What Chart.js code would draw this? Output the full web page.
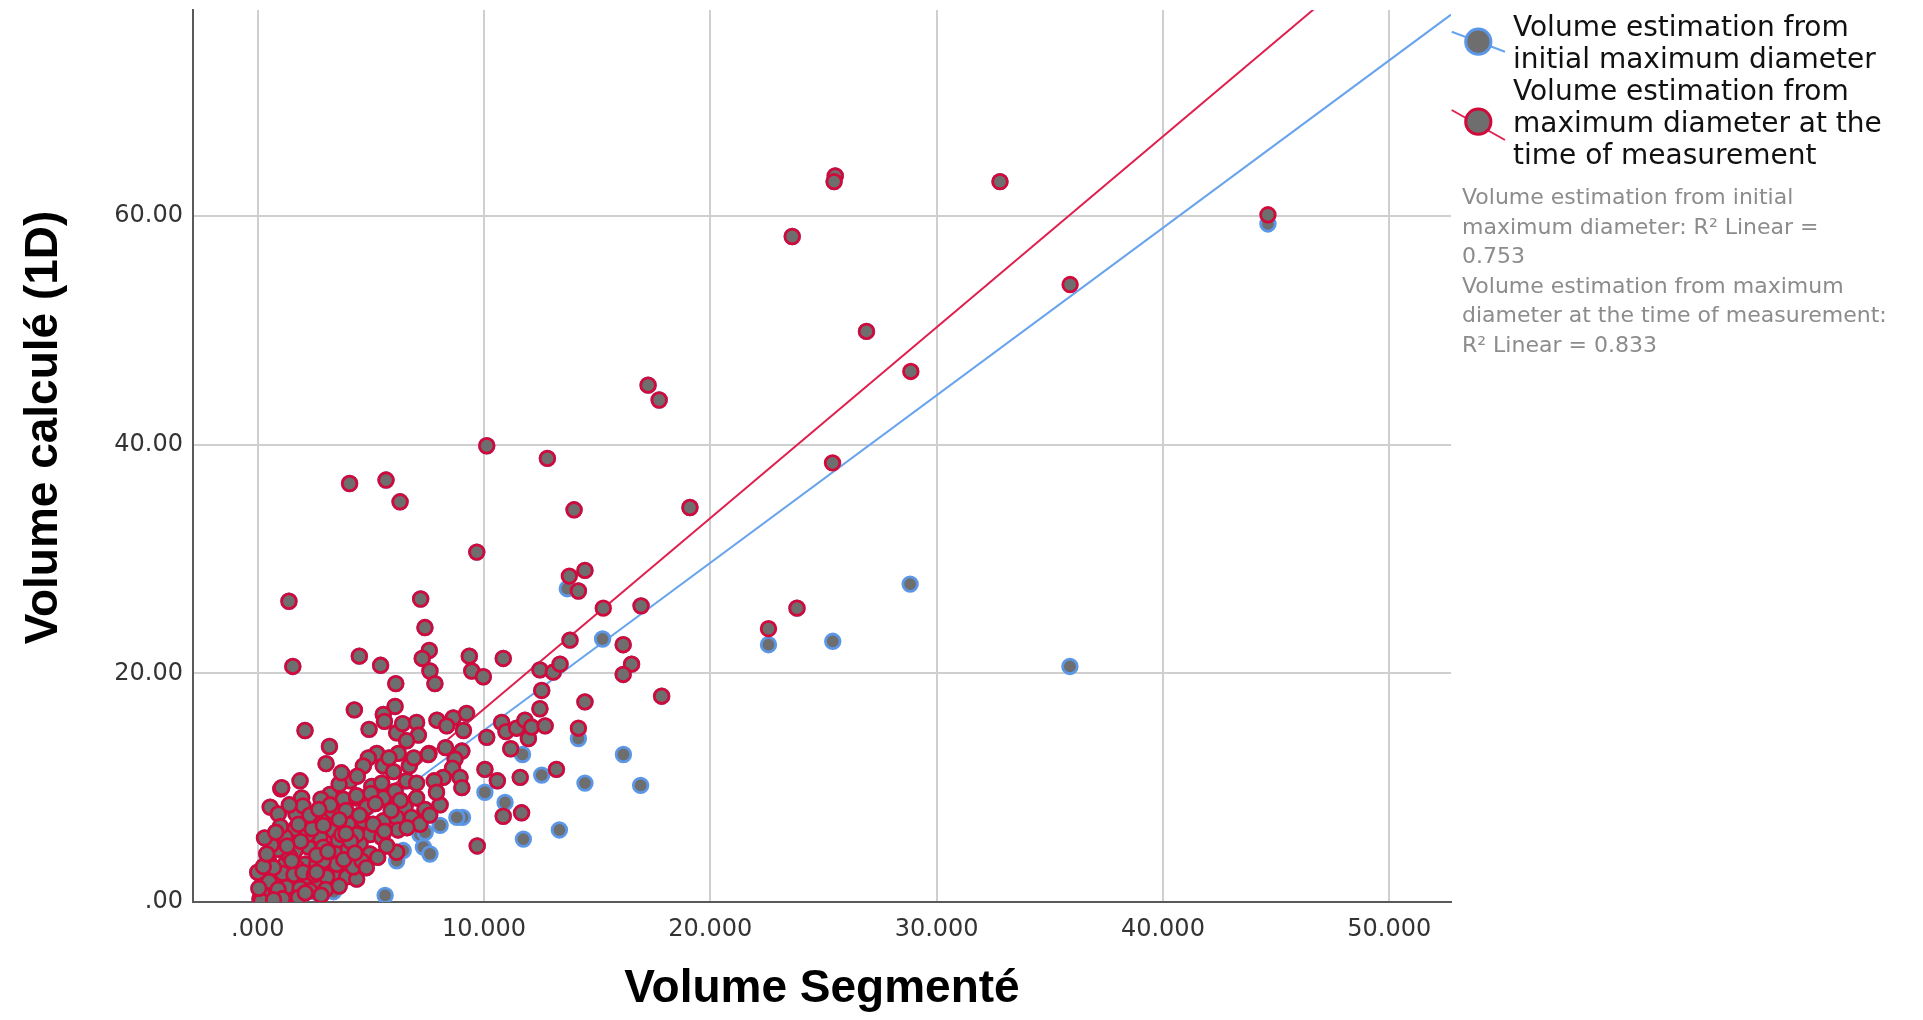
<!DOCTYPE html>
<html>
<head>
<meta charset="utf-8">
<script src="https://cdn.jsdelivr.net/npm/chart.js@4.4.1/dist/chart.umd.min.js"></script>
<style>
html,body{margin:0;padding:0;background:#fff;}
#wrap{position:relative;width:1923px;height:1020px;overflow:hidden;background:#fff;}
#c{position:absolute;left:0;top:0;}
#legMarks{position:absolute;left:1440px;top:0;}
.leg{position:absolute;left:1513px;top:11px;font-family:"DejaVu Sans";font-size:28px;line-height:32px;color:#111;white-space:nowrap;}
.r2{position:absolute;left:1462px;top:182px;font-family:"DejaVu Sans";font-size:22px;line-height:29.5px;color:#8c8c8c;white-space:nowrap;}
</style>
</head>
<body>
<div id="wrap">
<canvas id="c" width="1923" height="1020"></canvas>
<svg id="legMarks" width="80" height="160" xmlns="http://www.w3.org/2000/svg">
  <line x1="11.7" y1="31.7" x2="65" y2="51.7" stroke="#68a4ee" stroke-width="2"/>
  <circle cx="38.3" cy="41.7" r="12.6" fill="#6e6e6e" stroke="#5b97e6" stroke-width="3"/>
  <line x1="11.7" y1="110" x2="65" y2="140" stroke="#e0204c" stroke-width="2"/>
  <circle cx="38.3" cy="121.7" r="12.6" fill="#6e6e6e" stroke="#d10a3c" stroke-width="3"/>
</svg>
<div class="leg" id="legText"></div>
<div class="r2" id="r2Text"></div>
</div>
<script>
// ---------- data ----------
const xTitle = "Volume Segmenté";
const yTitle = "Volume calculé (1D)";
const seriesNames = ["Volume estimation from initial maximum diameter",
                     "Volume estimation from maximum diameter at the time of measurement"];
const legendLines = ["Volume estimation from", "initial maximum diameter",
                     "Volume estimation from", "maximum diameter at the", "time of measurement"];
const r2Lines = ["Volume estimation from initial", "maximum diameter: R² Linear =", "0.753",
                 "Volume estimation from maximum", "diameter at the time of measurement:", "R² Linear = 0.833"];

const xTickValues = [0, 10, 20, 30, 40, 50];
const xTickLabels = [".000", "10.000", "20.000", "30.000", "40.000", "50.000"];
const yTickValues = [0, 20, 40, 60];
const yTickLabels = [".00", "20.00", "40.00", "60.00"];
const xRange = [-2.86, 52.73];
const yRange = [0, 78];

// points where both estimates coincide (red drawn over blue)
const sharedPoints = [
 [25.52,63.5],[25.47,63.0],[32.8,63.0],[23.62,58.2],[26.9,49.9],[17.25,45.2],[17.74,43.9],
 [10.12,39.9],[12.8,38.8],[5.67,36.9],[4.06,36.6],[6.29,35.0],[13.98,34.3],[19.1,34.5],
 [9.68,30.6],[14.46,29.0],[14.17,27.2],[23.83,25.7],[16.94,25.9],[1.38,26.3],[7.2,26.5],
 [7.39,24.0],[13.8,22.9],[16.15,22.5],[16.52,20.8],[16.15,19.9],[17.85,18.0],[14.46,17.5],
 [1.55,20.6],[4.49,21.5],[5.43,20.7],[6.1,19.1],[7.58,22.0],[7.27,21.3],[7.61,20.2],[7.83,19.1],
 [9.35,21.5],[9.46,20.2],[9.97,19.7],[10.85,21.3],[12.47,20.3],[13.06,20.1],[13.36,20.8],
 [12.55,18.5],[12.47,16.9],
 [2.09,15.0],[4.27,16.8],[6.07,17.1],[5.55,16.4],[5.6,15.8],[7.02,15.7],[7.1,14.6],[6.14,14.8],
 [6.58,14.1],[6.21,13.0],[4.92,15.1],[3.17,13.6],[3.02,12.1],[7.92,15.9],[8.64,16.1],[9.23,16.5],
 [8.35,15.4],[9.09,15.0],[7.57,13.0],[8.3,13.5],[9.02,13.2],[8.72,12.5],[8.61,11.7],[8.94,10.9],
 [9.02,10.0],[8.2,10.9],[7.8,10.6],[10.12,14.4],[10.78,15.7],[10.97,14.9],[11.44,15.2],[11.81,15.9],
 [11.96,14.3],[12.1,15.3],[12.7,15.4],[11.18,13.4],[10.04,11.6],[10.59,10.6],[11.6,10.9],
 [10.85,7.5],[11.66,7.8],[9.7,4.9],[13.2,11.6],
 [5.26,13.0],[4.89,12.6],[4.67,11.9],[5.55,11.9],[6.0,11.4],[7.54,12.9],[4.08,10.6],[5.04,10.1],
 [5.48,10.4],[5.92,9.4],[6.58,10.6],[7.02,10.4],[7.02,9.1],[3.19,9.4],[3.78,9.0],[4.37,9.1],
 [4.81,8.3],[5.55,9.1],[6.51,8.3],[7.39,8.1],[8.06,8.5],[1.94,9.1],[1.87,10.6],[1.02,9.9],
 [0.55,8.3],[0.91,7.7],[1.69,7.7],[1.65,6.4],[1.21,5.7],[2.46,7.1],[3.05,7.5],[3.35,6.2],
 [3.56,5.4],[4.0,6.8],[4.67,7.1],[5.55,7.1],[6.14,7.4],[6.8,7.4],[7.17,6.8],[4.96,5.9],
 [5.48,5.65],[6.14,4.35],[2.75,5.65],[2.24,4.8],[1.65,4.5],[2.9,4.8],[3.49,4.2],[4.0,4.6],
 [4.52,5.1],[2.09,3.3],[2.61,3.3],[1.72,3.0],[1.21,3.3],[0.47,3.6],[0.99,1.9],[1.43,1.9],
 [2.16,1.9],[3.35,2.5],[3.93,2.2],[4.37,2.0],[0.18,1.45],[0.1,0.3],[0.4,0.4],[0.84,0.7],
 [1.43,0.9],[0.32,2.2],[0.69,2.6],[1.28,1.3],[1.87,1.2],[2.61,1.6],[3.05,2.2],[3.49,3.3],
 [4.22,3.05],[4.96,4.2],[3.71,5.9],[4.37,5.9],[6.07,9.7],[4.37,9.3],[1.06,10.0],
 [0.3,1.0],[0.6,1.2],[0.2,0.8],[0.5,1.8],[0.9,1.1],[1.1,2.5],[0.7,3.0],[1.6,2.4],[2.0,2.6],
 [2.3,1.0],[1.8,0.4],[2.5,2.4],[2.9,3.6],[1.4,4.0],[0.9,4.6],[2.2,5.9],[2.6,4.1],[3.1,4.4],
 [1.9,5.3],[0.6,5.0],[1.0,6.6],[3.8,3.7],[4.6,3.6],[4.1,5.3],[5.1,6.8],[3.0,1.1],[0.15,0.1],
 [0.05,1.2],[0.0,2.6],[0.25,3.1],[0.4,4.2],[1.3,4.9],[2.4,6.4],[3.3,7.9],[2.0,8.4],[2.8,9.0],
 [3.6,10.3],[4.4,11.0],[5.8,12.6],[6.7,11.9],[6.3,8.9],[5.0,9.5],[3.2,8.5],[2.3,7.6],[1.4,8.5],
 [2.7,8.1],[3.9,8.0],[4.5,7.6],[5.2,8.6],[5.9,8.0],[6.2,6.3],[5.7,4.9],[5.3,3.9],[4.8,3.0],
 [3.6,1.4],[2.8,0.6],[2.1,0.8],[1.1,0.3],[0.7,0.2],[3.9,6.0],[2.6,2.6],[1.5,3.6],[0.3,5.6],
 [0.8,6.1],[1.8,6.8],[2.9,6.7],[3.6,7.2],[4.3,4.3],[5.6,6.2],[6.6,6.5],[7.6,7.6],[7.9,9.6],
 [6.9,12.6],[6.4,15.6],[3.7,11.3]
];
// blue points visible where the two estimates differ
const initialOnlyPoints = [
 [44.64,59.3],[35.89,20.6],[28.83,27.8],[25.41,22.8],[22.57,22.5],[15.24,23.0],[13.68,27.4],[14.17,14.3],
 [16.16,12.9],[11.7,12.9],[12.55,11.1],[14.46,10.4],[16.92,10.2],[11.74,5.5],[13.33,6.3],[10.04,9.6],
 [10.93,8.7],[9.05,7.4],[8.8,7.4],[8.06,6.7],[7.17,5.9],[7.4,6.1],[7.32,4.8],[7.61,4.2],[6.43,4.5],
 [6.14,3.6],[5.63,0.58],[4.08,2.9],[3.35,0.9],[2.46,0.9],[1.43,0.3]
];
// red points whose blue partner lies elsewhere
const measureOnlyPoints = [
 [44.64,60.1],[35.9,54.0],[28.86,46.4],[25.4,38.4],[22.57,23.9],[15.27,25.7],[13.77,28.5],[14.17,15.2]
];
// fit lines (end points)
const fitInitial = [[0, 0.37], [52.73, 77.6]];
const fitMeasure = [[0, 0.19], [48.0, 80.3]];

// ---------- build ----------
const toXY = arr => arr.map(p => ({x: p[0], y: p[1]}));
document.getElementById('legText').innerHTML = legendLines.join('<br>');
document.getElementById('r2Text').innerHTML = r2Lines.join('<br>');

const yTitlePlugin = {
  id: 'yTitle',
  afterDraw(chart) {
    const ctx = chart.ctx, a = chart.chartArea;
    ctx.save();
    ctx.translate(57, a.top + (a.bottom - a.top) * 0.468);
    ctx.rotate(-Math.PI / 2);
    ctx.font = 'bold 46px "Liberation Sans"';
    ctx.fillStyle = '#000';
    ctx.textAlign = 'center';
    ctx.textBaseline = 'alphabetic';
    ctx.fillText(yTitle, 0, 0);
    ctx.restore();
  }
};

const pointCommon = {pointRadius: 7.3, pointHoverRadius: 7.3, pointBackgroundColor: '#6e6e6e', pointBorderWidth: 2.8, showLine: false, clip: 0};

new Chart(document.getElementById('c'), {
  type: 'scatter',
  data: {
    datasets: [
      Object.assign({label: seriesNames[1], data: toXY(sharedPoints.concat(measureOnlyPoints)),
        pointBorderColor: '#d10a3c', borderColor: '#d10a3c', order: 1}, pointCommon),
      Object.assign({label: seriesNames[0], data: toXY(sharedPoints.concat(initialOnlyPoints)),
        pointBorderColor: '#5b97e6', borderColor: '#5b97e6', order: 2}, pointCommon),
      {label: 'fit2', data: toXY(fitMeasure), showLine: true, pointRadius: 0, borderColor: '#e0204c', borderWidth: 2, order: 3, clip: 0},
      {label: 'fit1', data: toXY(fitInitial), showLine: true, pointRadius: 0, borderColor: '#68a4ee', borderWidth: 2, order: 4, clip: 0}
    ]
  },
  options: {
    responsive: false,
    animation: false,
    devicePixelRatio: 1,
    layout: {padding: {left: 0, right: 472, top: 5, bottom: 0}},
    plugins: {legend: {display: false}, tooltip: {enabled: false}},
    scales: {
      x: {
        type: 'linear', min: xRange[0], max: xRange[1],
        afterBuildTicks: s => { s.ticks = xTickValues.map(v => ({value: v})); },
        afterFit: s => { s.height = 118; s.paddingLeft = 0; s.paddingRight = 0; },
        grid: {color: '#cfcfcf', lineWidth: 2, drawTicks: false},
        border: {color: '#5a5a5a', width: 2},
        ticks: {padding: 13, autoSkip: false, maxRotation: 0, color: '#333',
                font: {family: 'DejaVu Sans', size: 24},
                callback: v => xTickLabels[xTickValues.indexOf(v)]},
        title: {display: true, text: xTitle, color: '#000',
                font: {family: 'Liberation Sans', size: 46, weight: 'bold'},
                padding: {top: 0, bottom: 3}}
      },
      y: {
        type: 'linear', min: yRange[0], max: yRange[1],
        afterBuildTicks: s => { s.ticks = yTickValues.map(v => ({value: v})); },
        afterFit: s => { s.width = 193; s.paddingTop = 0; s.paddingBottom = 0; },
        grid: {color: '#cfcfcf', lineWidth: 2, drawTicks: false},
        border: {color: '#5a5a5a', width: 2},
        ticks: {padding: 10, autoSkip: false, color: '#333',
                font: {family: 'DejaVu Sans', size: 24},
                callback: v => yTickLabels[yTickValues.indexOf(v)]}
      }
    }
  },
  plugins: [yTitlePlugin]
});
</script>
</body>
</html>
